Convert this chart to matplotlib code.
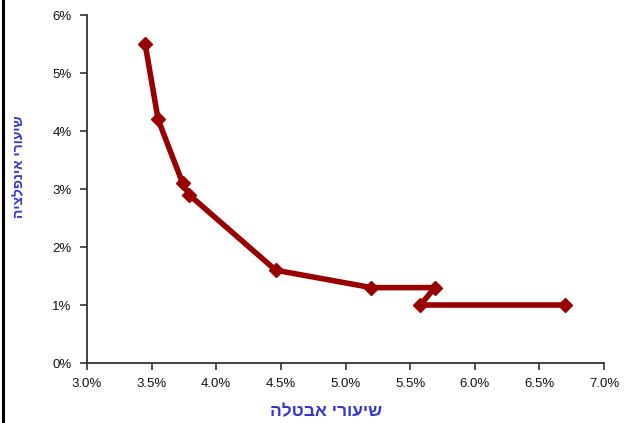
import matplotlib.pyplot as plt
from matplotlib.lines import Line2D
from matplotlib.ticker import FuncFormatter

plt.rcParams["font.family"] = ["Liberation Sans", "DejaVu Sans"]

# unemployment rate (%) vs inflation rate (%)
unemployment = [3.45, 3.55, 3.74, 3.79, 4.46, 5.2, 5.69, 5.58, 6.7]
inflation = [5.5, 4.2, 3.1, 2.9, 1.6, 1.3, 1.3, 1.0, 1.0]

x_label = "שיעורי אבטלה"
y_label = "שיעורי אינפלציה"

fig = plt.figure(figsize=(6.26, 4.23), dpi=100)
ax = fig.add_axes([87 / 626, 60 / 423, 517 / 626, 348 / 423])

ax.plot(unemployment, inflation, color="#990000", lw=4,
        marker="D", markersize=7, solid_joinstyle="miter")

ax.set_xlim(3.0, 7.0)
ax.set_ylim(0, 6)
ax.set_xticks([3.0, 3.5, 4.0, 4.5, 5.0, 5.5, 6.0, 6.5, 7.0])
ax.set_yticks(range(7))
ax.xaxis.set_major_formatter(FuncFormatter(lambda v, p: f"{v:.1f}%"))
ax.yaxis.set_major_formatter(FuncFormatter(lambda v, p: f"{v:.0f}%"))
ax.tick_params(direction="out", length=5, width=1.2, labelsize=9.5,
               color="#333333", labelcolor="#111111", pad=6)

for s in ["top", "right"]:
    ax.spines[s].set_visible(False)
for s in ["left", "bottom"]:
    ax.spines[s].set_linewidth(1.3)
    ax.spines[s].set_color("#333333")

# matplotlib has no bidi support, so Hebrew strings are reversed for display
fig.text(326 / 626, 1 - 412 / 423, x_label[::-1], color="#3535d5",
         fontsize=12.5, fontweight="bold", ha="center", va="center")
fig.text(19 / 626, 1 - 167 / 423, y_label[::-1], color="#3535d5",
         fontsize=10, fontweight="bold", ha="center", va="center",
         rotation=90)

# frame edge on the left
fig.add_artist(Line2D([3 / 626, 3 / 626], [0, 1], color="black", lw=2.2))

fig.savefig("out.png", dpi=100)
